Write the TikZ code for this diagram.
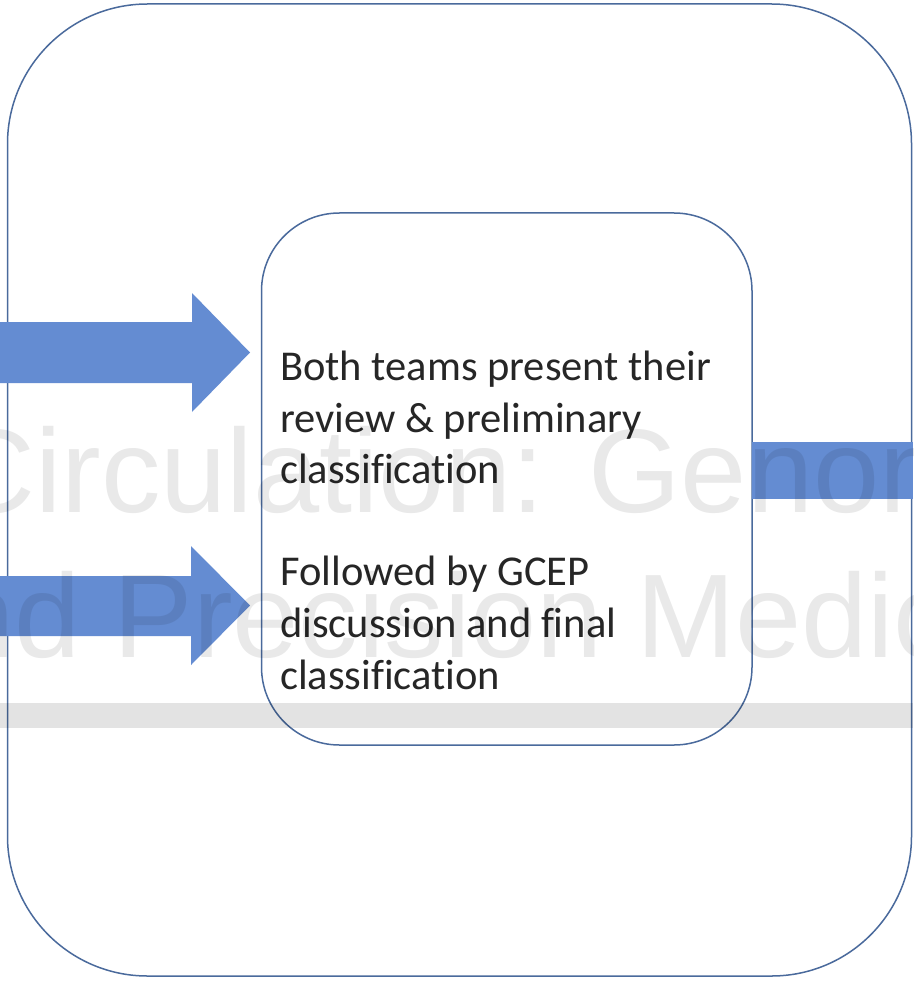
\documentclass[tikz,border=0pt]{standalone}
\usepackage{fontspec}
\setmainfont[Ligatures=NoCommon]{Carlito}
\newfontfamily\wmfont{Liberation Sans}
\definecolor{arrowblue}{HTML}{648CD2}
\definecolor{boxline}{HTML}{4A6A9C}
\definecolor{txt}{HTML}{262626}
\tikzset{
  boxframe/.style={draw=boxline, line width=1.5pt},
  blockarrow/.style={fill=arrowblue, draw=none},
  bodytext/.style={anchor=base west, inner sep=0pt, text=txt, font=\fontsize{42.5}{51.7}\selectfont},
  watermark/.style={anchor=base west, inner sep=0pt, text=black, text opacity=0.085, font=\wmfont\fontsize{119}{142}\selectfont},
}
\begin{document}
\begin{tikzpicture}[x=1pt,y=-1pt]
\useasboundingbox (0,0) rectangle (913,981);
\clip (0,0) rectangle (913,981);
\fill[white] (0,0) rectangle (913,981);
% outer frame
\draw[boxframe, rounded corners=140pt] (7.5,4) rectangle (911.5,976);
% inner box
\draw[boxframe, rounded corners=78pt] (261.5,213) rectangle (752,745);
\coordinate (inR) at (752,470);
% left arrows
\fill[blockarrow] (0,322) -- (192,322) -- (192,293) -- (250,352.5) -- (192,412) -- (192,383) -- (0,383) -- cycle;
\fill[blockarrow] (0,576) -- (191,576) -- (191,546) -- (250,605.5) -- (191,665) -- (191,636) -- (0,636) -- cycle;
% right arrow shaft
\fill[blockarrow] (inR |- 0,442) rectangle (913,499);
% text
\node[bodytext] (t1) at (280,380) {Both teams present their};
\node[bodytext] (t2) at (280,432) {review \& preliminary};
\node[bodytext] (t3) at (280,483.5) {classification};
\node[bodytext] (t4) at (280,585) {Followed by GCEP};
\node[bodytext] (t5) at (280,637) {discussion and final};
\node[bodytext] (t6) at (280,689) {classification};
% watermark
\node[watermark] (w1) at (-51,512) {Circulation: Genomic};
\node[watermark] (w2) at (-118,657) {and Precision Medicine};
\fill[black, opacity=0.11] (0,703) rectangle (913,728);
\end{tikzpicture}
\end{document}
